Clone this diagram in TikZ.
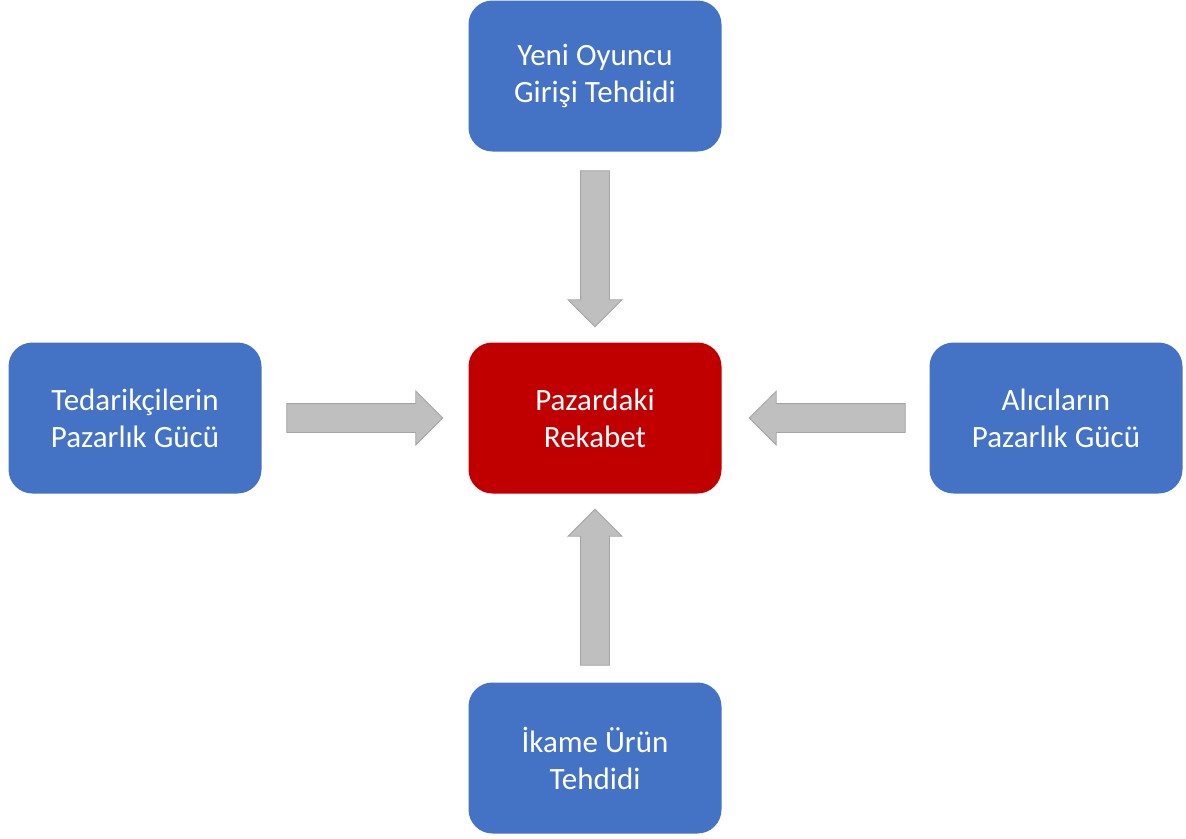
\documentclass[tikz,border=0pt]{standalone}
\usepackage{fontspec}
\setmainfont{Carlito}
\usetikzlibrary{shapes.arrows,calc}
\definecolor{forceblue}{HTML}{4472C4}
\definecolor{rivalred}{HTML}{C00000}
\definecolor{arrowgray}{HTML}{BFBFBF}
\definecolor{arrowline}{HTML}{A5A5A5}
\tikzset{
	forcebox/.style={rectangle, rounded corners=24pt, fill=forceblue, text=white,
		minimum width=253pt, minimum height=151pt, align=center,
		font=\fontsize{31}{37}\selectfont},
	rivalbox/.style={forcebox, fill=rivalred},
	blockarrow/.style={single arrow, fill=arrowgray, draw=arrowline, line width=0.8pt,
		inner ysep=14pt, inner xsep=0pt, outer sep=0pt, minimum height=156pt,
		single arrow head extend=12.5pt, single arrow tip angle=90, anchor=tail}
}
\begin{document}
\begin{tikzpicture}[x=1pt, y=-1pt]
			\useasboundingbox (0,0) rectangle (1186,838);

			% Forces
			\node[forcebox] (entrants) at (595,76) {Yeni Oyuncu\\Girişi Tehdidi};
			\node[forcebox] (suppliers) at (135,418) {Tedarikçilerin\\Pazarlık Gücü};
			\node[rivalbox] (rivalry) at (595,418) {Pazardaki\\Rekabet};
			\node[forcebox] (buyers) at (1056,418) {Alıcıların\\Pazarlık Gücü};
			\node[forcebox] (substitutes) at (595,758) {İkame Ürün\\Tehdidi};

			% Block arrows
			\node[blockarrow, rotate=-90] (a1) at ($(entrants.south)!19pt!(rivalry.north)$) {};
			\node[blockarrow] (a2) at ($(suppliers.east)!25pt!(rivalry.west)$) {};
			\node[blockarrow, rotate=180] (a3) at ($(buyers.west)!24pt!(rivalry.east)$) {};
			\node[blockarrow, rotate=90] (a4) at ($(substitutes.north)!17pt!(rivalry.south)$) {};
		\end{tikzpicture}
\end{document}
